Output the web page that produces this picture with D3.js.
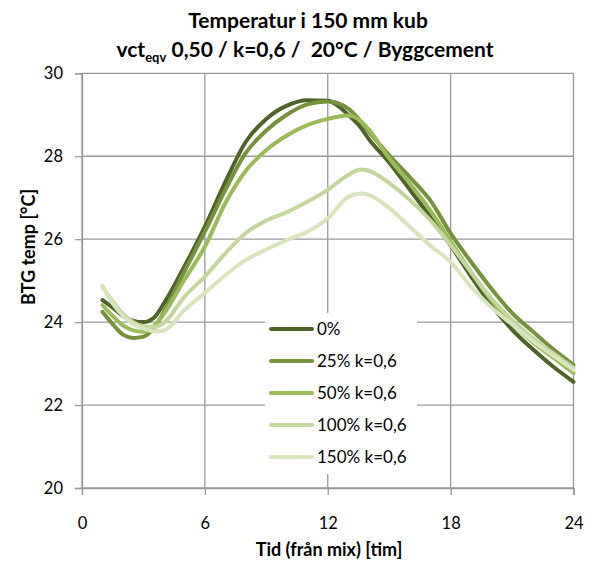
<!DOCTYPE html>
<html>
<head>
<meta charset="utf-8">
<script src="https://cdn.jsdelivr.net/npm/d3@7"></script>
<style>
  html, body { margin: 0; padding: 0; background: #fff; }
  svg { display: block; }
  text { font-family: Lato, "Open Sans", sans-serif; fill: #000; }
</style>
</head>
<body>
<svg id="chart" width="592" height="562"></svg>
<script>
// ---- data ----
const hours = [1, 1.5, 2, 2.5, 3, 3.5, 4, 5, 6, 7, 8, 9, 10, 11, 12, 13, 13.6, 14, 15, 16, 17, 18, 19, 20, 21, 22, 23, 24];
const seriesNames = ["0%", "25% k=0,6", "50% k=0,6", "100% k=0,6", "150% k=0,6"];
const temp0   = [24.53, 24.35, 24.15, 24.03, 24.00, 24.10, 24.45, 25.34, 26.30, 27.38, 28.35, 28.90, 29.22, 29.35, 29.34, 29.00, 28.70, 28.42, 27.85, 27.20, 26.54, 25.85, 25.10, 24.40, 23.82, 23.35, 22.93, 22.56];
const temp25  = [24.25, 23.95, 23.70, 23.62, 23.65, 23.85, 24.25, 25.22, 26.18, 27.19, 28.08, 28.62, 29.00, 29.25, 29.32, 29.15, 28.85, 28.60, 28.02, 27.50, 26.94, 26.14, 25.45, 24.80, 24.22, 23.78, 23.35, 22.97];
const temp50  = [24.41, 24.15, 23.92, 23.80, 23.77, 23.90, 24.20, 25.02, 25.82, 26.87, 27.65, 28.15, 28.50, 28.75, 28.90, 28.98, 28.85, 28.65, 27.95, 27.35, 26.70, 25.95, 25.20, 24.52, 23.97, 23.52, 23.15, 22.77];
const temp100 = [24.85, 24.50, 24.20, 24.00, 23.90, 23.88, 23.98, 24.61, 25.10, 25.66, 26.15, 26.45, 26.65, 26.90, 27.19, 27.55, 27.68, 27.65, 27.35, 26.95, 26.46, 25.86, 25.20, 24.57, 24.05, 23.62, 23.25, 22.90];
const temp150 = [24.88, 24.45, 24.15, 23.95, 23.85, 23.78, 23.80, 24.29, 24.70, 25.13, 25.50, 25.75, 25.98, 26.18, 26.50, 27.02, 27.10, 27.07, 26.75, 26.30, 25.85, 25.45, 24.85, 24.35, 23.95, 23.55, 23.20, 22.85];
const xTicks = [0, 6, 12, 18, 24];
const yTicks = [20, 22, 24, 26, 28, 30];
const colors = ["#4f6228", "#76923c", "#9bbb59", "#c3d69b", "#d7e4bc"];

const allSeries = [temp0, temp25, temp50, temp100, temp150];

// ---- layout ----
const svg = d3.select("#chart");
const mLeft = 82, mRight = 573.5, mTop = 73.3, mBottom = 488;
const x = d3.scaleLinear().domain([0, 24]).range([mLeft, mRight]);
const y = d3.scaleLinear().domain([20, 30]).range([mBottom, mTop]);
const gridColor = "#999999";

// grid lines
svg.append("g").selectAll("line").data(yTicks).join("line")
  .attr("x1", mLeft).attr("x2", mRight)
  .attr("y1", d => y(d)).attr("y2", d => y(d))
  .attr("stroke", gridColor).attr("stroke-width", 1.3);
svg.append("g").selectAll("line").data(xTicks).join("line")
  .attr("x1", d => x(d)).attr("x2", d => x(d))
  .attr("y1", mTop).attr("y2", mBottom)
  .attr("stroke", gridColor).attr("stroke-width", 1.3);

// axes
const yAxis = d3.axisLeft(y).tickValues(yTicks).tickSize(7).tickPadding(12).tickFormat(d3.format("d"));
const xAxis = d3.axisBottom(x).tickValues(xTicks).tickSize(7).tickPadding(22).tickFormat(d3.format("d"));
const gy = svg.append("g").attr("transform", `translate(${mLeft},0)`).call(yAxis);
const gx = svg.append("g").attr("transform", `translate(0,${mBottom})`).call(xAxis);
[gx, gy].forEach(g => {
  g.select(".domain").attr("stroke", gridColor).attr("stroke-width", 1.3);
  g.selectAll(".tick line").attr("stroke", gridColor).attr("stroke-width", 1.3);
  g.selectAll(".tick text").attr("font-family", "Lato, 'Open Sans', sans-serif")
    .attr("font-size", 16.5).attr("fill", "#000");
});

// lines
const line = d3.line()
  .x((d, i) => x(hours[i]))
  .y(d => y(d))
  .curve(d3.curveMonotoneX);
svg.append("g").selectAll("path").data(allSeries).join("path")
  .attr("d", d => line(d))
  .attr("fill", "none")
  .attr("stroke", (d, i) => colors[i])
  .attr("stroke-width", 4)
  .attr("stroke-linejoin", "round")
  .attr("stroke-linecap", "round");

// legend
const lg = svg.append("g");
lg.append("rect").attr("x", 265).attr("y", 313).attr("width", 152).attr("height", 161).attr("fill", "#fff");
const legendRows = lg.selectAll("g").data(seriesNames).join("g")
  .attr("transform", (d, i) => `translate(271,${329 + i * 32})`);
legendRows.append("line").attr("x1", 0).attr("x2", 41).attr("y1", 0).attr("y2", 0)
  .attr("stroke", (d, i) => colors[i]).attr("stroke-width", 4).attr("stroke-linecap", "round");
legendRows.append("text").attr("x", 46).attr("y", 0).attr("dy", "0.35em")
  .attr("font-size", 17).text(d => d);

// titles
svg.append("text").attr("x", 308).attr("y", 28).attr("text-anchor", "middle")
  .attr("font-size", 21).attr("font-weight", "bold").text("Temperatur i 150 mm kub");
const t2 = svg.append("text").attr("x", 305).attr("y", 57).attr("text-anchor", "middle")
  .attr("font-size", 21).attr("font-weight", "bold").attr("xml:space", "preserve");
t2.append("tspan").text("vct");
t2.append("tspan").attr("font-size", 13).attr("dy", 5).text("eqv");
t2.append("tspan").attr("dy", -5).text(" 0,50 / k=0,6 /  20°C / Byggcement");

// axis titles
svg.append("text").attr("x", 329).attr("y", 556).attr("text-anchor", "middle")
  .attr("font-size", 18).attr("font-weight", "bold").text("Tid (från mix) [tim]");
svg.append("text").attr("transform", "translate(35,247) rotate(-90)").attr("text-anchor", "middle")
  .attr("font-size", 18).attr("font-weight", "bold").text("BTG temp [°C]");
</script>
</body>
</html>
